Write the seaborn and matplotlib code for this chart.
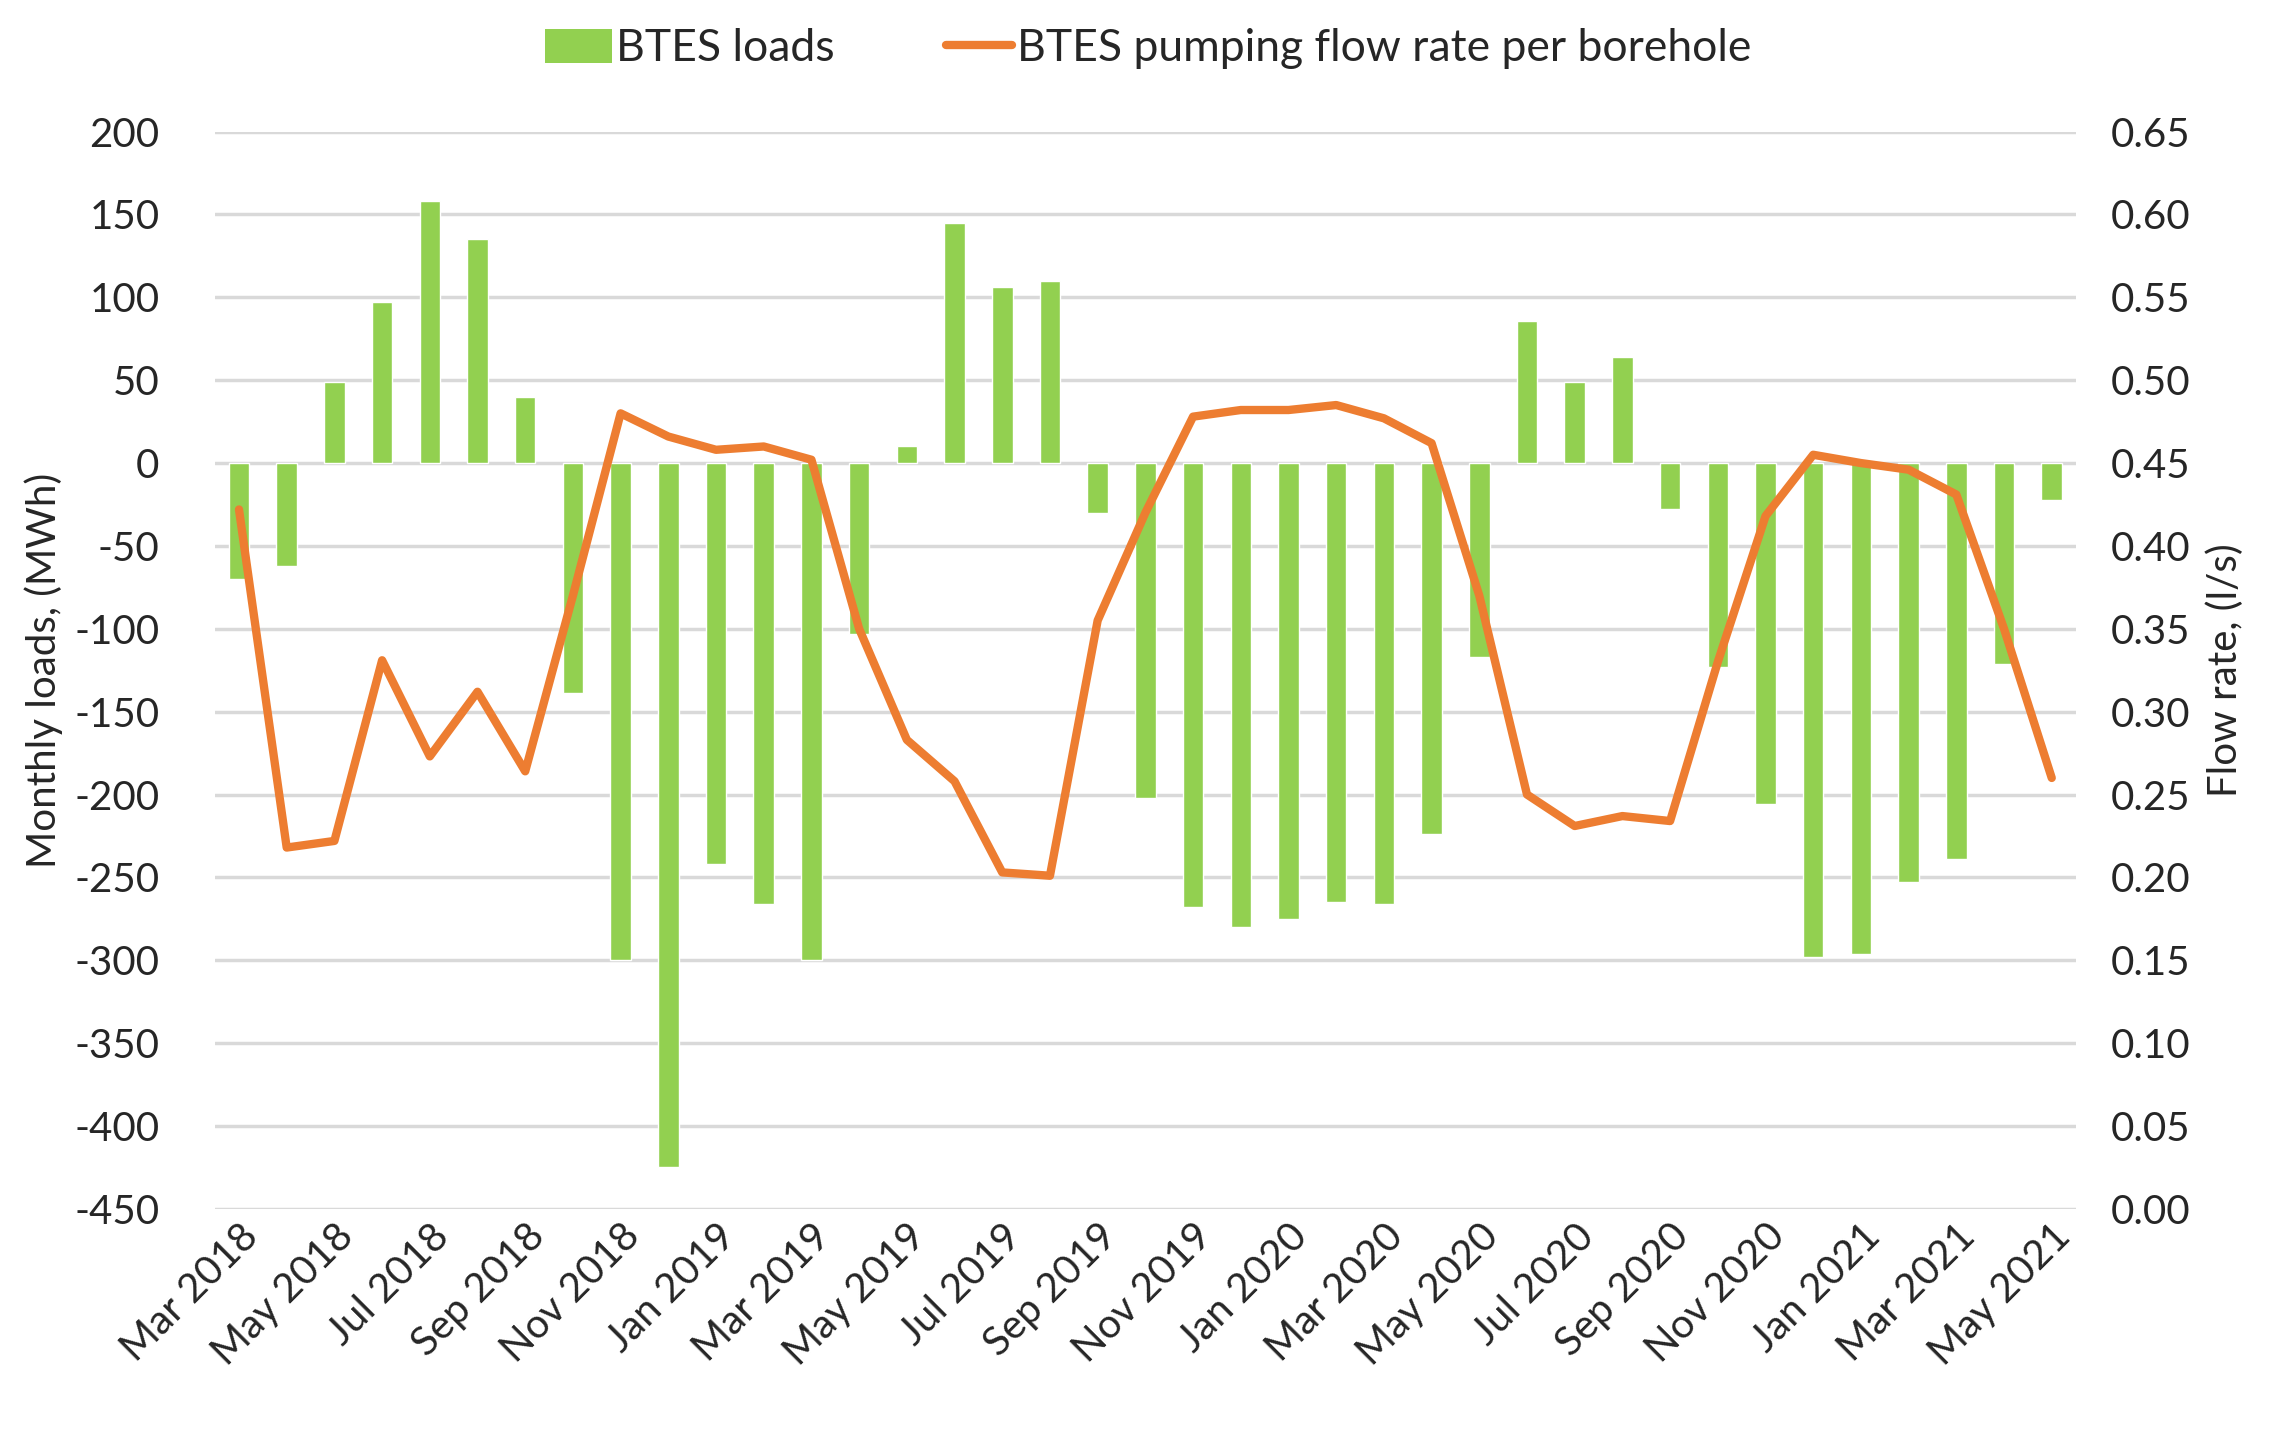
import matplotlib
matplotlib.use("Agg")
import matplotlib.pyplot as plt
import seaborn as sns
import numpy as np
import pandas as pd
from matplotlib.patches import Patch
from matplotlib.lines import Line2D

months = ["Mar 2018", "Apr 2018", "May 2018", "Jun 2018", "Jul 2018", "Aug 2018",
          "Sep 2018", "Oct 2018", "Nov 2018", "Dec 2018", "Jan 2019", "Feb 2019",
          "Mar 2019", "Apr 2019", "May 2019", "Jun 2019", "Jul 2019", "Aug 2019",
          "Sep 2019", "Oct 2019", "Nov 2019", "Dec 2019", "Jan 2020", "Feb 2020",
          "Mar 2020", "Apr 2020", "May 2020", "Jun 2020", "Jul 2020", "Aug 2020",
          "Sep 2020", "Oct 2020", "Nov 2020", "Dec 2020", "Jan 2021", "Feb 2021",
          "Mar 2021", "Apr 2021", "May 2021"]

loads = [-70, -62, 49, 97, 158, 135, 40, -139, -300, -425, -242, -266,
         -300, -103, 10, 145, 106, 110, -30, -202, -268, -280, -275, -265,
         -266, -224, -117, 86, 49, 64, -28, -123, -206, -298, -296, -253,
         -239, -121, -22]

flow = [0.422, 0.218, 0.222, 0.331, 0.273, 0.312, 0.264, 0.370, 0.480, 0.466,
        0.458, 0.460, 0.452, 0.350, 0.283, 0.258, 0.203, 0.201, 0.355, 0.420,
        0.478, 0.482, 0.482, 0.485, 0.477, 0.462, 0.370, 0.250, 0.231, 0.237,
        0.234, 0.330, 0.418, 0.455, 0.450, 0.446, 0.431, 0.350, 0.260]

df = pd.DataFrame({"month": months, "loads": loads, "flow": flow})
df["pos"] = np.arange(len(df))

green = "#92D050"
orange = "#ED7D31"
fs = 29

sns.set_style("white")
plt.rcParams["font.family"] = ["Lato", "DejaVu Sans"]
plt.rcParams["axes.unicode_minus"] = False

fig = plt.figure(figsize=(22.96, 14.46), dpi=100)
ax = fig.add_axes([0.0937, 0.164, 0.8103, 0.745])

sns.barplot(data=df, x="pos", y="loads", color=green, width=0.43,
            saturation=1, ax=ax, zorder=2)
ax.set_ylim(-450, 200)
ax.set_yticks(np.arange(-450, 201, 50))
ax.set_xlim(-0.5, len(df) - 0.5)
ax.set_xticks(df["pos"][::2])
ax.set_xticklabels(df["month"][::2], rotation=45, ha="right",
                   rotation_mode="anchor", fontsize=fs)
ax.tick_params(axis="y", labelsize=fs, length=0, pad=40)
ax.tick_params(axis="x", length=0, pad=6)
ax.yaxis.grid(True, color="#D9D9D9", linewidth=2.5, zorder=0)
ax.set_axisbelow(True)
ax.set_xlabel("")
ax.set_ylabel("Monthly loads, (MWh)", fontsize=fs, labelpad=8)
for s in ax.spines.values():
    s.set_visible(False)

ax2 = ax.twinx()
sns.lineplot(data=df, x="pos", y="flow", color=orange, linewidth=6,
             ax=ax2, zorder=3)
ax2.set_ylim(0, 0.65)
ax2.set_yticks(np.arange(0, 0.651, 0.05))
ax2.set_yticklabels([f"{v:.2f}" for v in np.arange(0, 0.651, 0.05)])
ax2.set_xlim(-0.5, len(df) - 0.5)
ax2.tick_params(axis="y", labelsize=fs, length=0, pad=25)
ax2.set_ylabel("Flow rate, (l/s)", fontsize=fs, labelpad=12)
ax2.grid(False)
for s in ax2.spines.values():
    s.set_visible(False)

handles = [Patch(facecolor=green, edgecolor="none", label="BTES loads"),
           Line2D([0], [0], color=orange, linewidth=6, solid_capstyle="round",
                  label="BTES pumping flow rate per borehole")]
fig.legend(handles=handles, loc="upper center", bbox_to_anchor=(0.5, 1.008),
           ncol=2, frameon=False, fontsize=32, handlelength=1.5,
           handleheight=0.8, handletextpad=0.1, columnspacing=2.5)

fig.savefig("out.png", dpi=100)
